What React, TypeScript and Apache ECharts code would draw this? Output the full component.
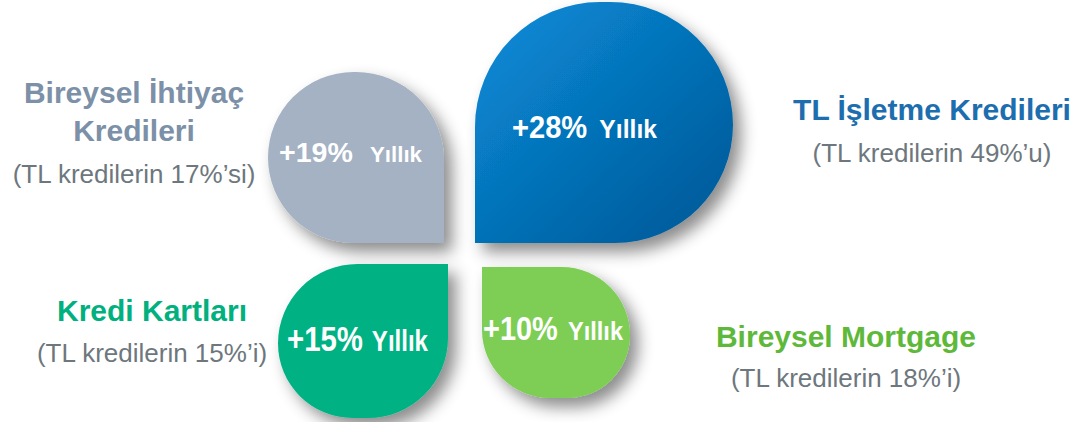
import React, { useEffect, useRef } from "react";
import * as echarts from "echarts";

// Data
const titles = ["Bireysel İhtiyaç\nKredileri", "TL İşletme Kredileri", "Kredi Kartları", "Bireysel Mortgage"];
const shares = [17, 49, 15, 18];
const shareSuffix = ["’si", "’u", "’i", "’i"];
const growth = [19, 28, 15, 10];
const growthUnit = "Yıllık";

const FONT = "'Liberation Sans', Arial, sans-serif";

export default function App() {
  const ref = useRef<HTMLDivElement>(null);
  useEffect(() => {
    if (!ref.current) return;
    const chart = echarts.init(ref.current, undefined, { renderer: "svg" });

    const petals = [
      { x: 268, y: 72, w: 176, h: 171, r: [88, 88, 0, 88], fill: "#A4B2C3" as any },
      {
        x: 475, y: 2, w: 258, h: 241, r: [125, 130, 125, 0],
        fill: new echarts.graphic.LinearGradient(0, 0, 1, 1, [
          { offset: 0, color: "#0A8DDB" },
          { offset: 1, color: "#005694" },
        ]),
      },
      { x: 278, y: 264, w: 170, h: 154, r: [85, 0, 80, 80], fill: "#02B283" },
      { x: 482, y: 267, w: 148, h: 131, r: [0, 74, 68, 68], fill: "#7ECE56" },
    ];
    // growth text layout: left of "+X%", right of "Yıllık", baseline, sizes and horizontal scale
    const gpos = [
      { l: 279, r: 422, b: 162, s1: 28, k1: 1.02, s2: 23, k2: 0.97 },
      { l: 512, r: 657, b: 138, s1: 32, k1: 0.91, s2: 26, k2: 0.95 },
      { l: 287, r: 428, b: 351, s1: 35, k1: 0.84, s2: 29, k2: 0.83 },
      { l: 483, r: 623, b: 340, s1: 32.5, k1: 0.89, s2: 26.5, k2: 0.89 },
    ];
    const labelPos = [
      { cx: 134, b: [102.7, 141], sb: 183.3, color: "#7C90A8" },
      { cx: 932, b: [120], sb: 162, color: "#1D6EAE" },
      { cx: 152, b: [321], sb: 362, color: "#00B07E" },
      { cx: 846, b: [346.7], sb: 387, color: "#5EB93B" },
    ];

    const elements: any[] = [];
    petals.forEach((p) => {
      elements.push({
        type: "rect",
        shape: { x: p.x, y: p.y, width: p.w, height: p.h, r: p.r },
        style: {
          fill: p.fill,
          shadowBlur: 16,
          shadowOffsetX: 8,
          shadowOffsetY: 9,
          shadowColor: "rgba(0,0,0,0.45)",
        },
      });
    });
    growth.forEach((g, i) => {
      const gp = gpos[i];
      elements.push({
        type: "text",
        x: gp.l,
        y: gp.b - 0.3465 * gp.s1,
        scaleX: gp.k1,
        style: { text: "+" + g + "%", font: "bold " + gp.s1 + "px " + FONT, fill: "#fff", align: "left", verticalAlign: "middle" },
      });
      elements.push({
        type: "text",
        x: gp.r,
        y: gp.b - 0.3465 * gp.s2,
        scaleX: gp.k2,
        style: { text: growthUnit, font: "bold " + gp.s2 + "px " + FONT, fill: "#fff", align: "right", verticalAlign: "middle" },
      });
    });
    titles.forEach((t, i) => {
      const lp = labelPos[i];
      t.split("\n").forEach((line, j) => {
        elements.push({
          type: "text",
          x: lp.cx,
          y: lp.b[j] - 0.3465 * 30,
          style: { text: line, font: "bold 30px " + FONT, fill: lp.color, align: "center", verticalAlign: "middle" },
        });
      });
      elements.push({
        type: "text",
        x: lp.cx,
        y: lp.sb - 0.3465 * 26,
        style: {
          text: "(TL kredilerin " + shares[i] + "%" + shareSuffix[i] + ")",
          font: "26px " + FONT,
          fill: "#6D777D",
          align: "center",
          verticalAlign: "middle",
        },
      });
    });

    chart.setOption({
      animation: false,
      backgroundColor: "#ffffff",
      graphic: { elements },
    });
    return () => chart.dispose();
  }, []);
  return <div ref={ref} style={{ position: "absolute", left: 0, top: 0, width: 1078, height: 422 }} />;
}
